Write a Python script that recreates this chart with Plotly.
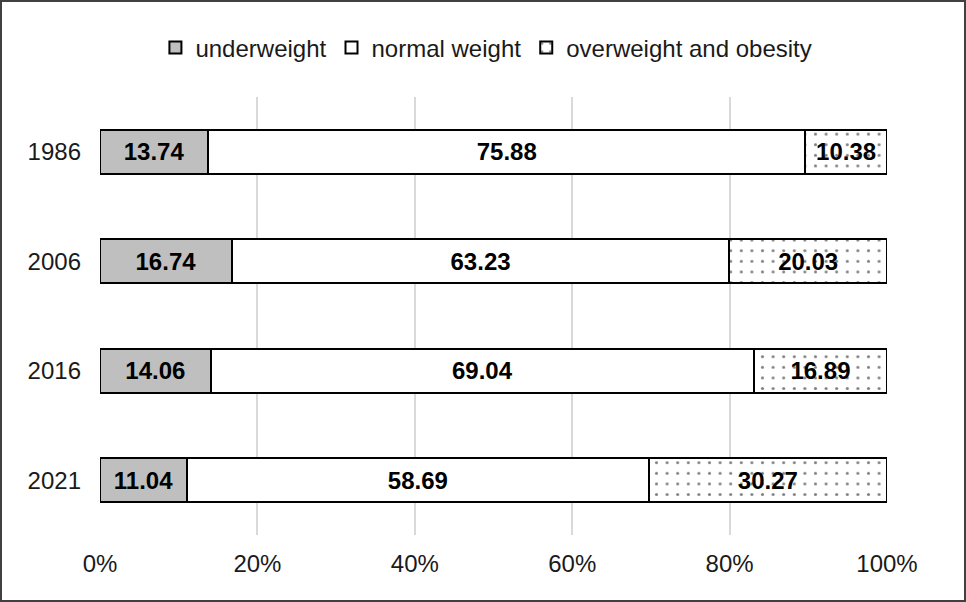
import plotly.graph_objects as go

years = ["1986", "2006", "2016", "2021"]
underweight = [13.74, 16.74, 14.06, 11.04]
normal_weight = [75.88, 63.23, 69.04, 58.69]
overweight = [10.38, 20.03, 16.89, 30.27]
x_ticks = [0, 20, 40, 60, 80, 100]
x_tick_labels = ["0%", "20%", "40%", "60%", "80%", "100%"]

W, H = 966, 602
ml, mr, mt, mb = 100, 79, 97, 67
pw, ph = W - ml - mr, H - mt - mb

font = "Liberation Sans, Arial, sans-serif"
txt = "#1a1a1a"
lab_font = dict(family=font, size=24, color="black")

fig = go.Figure()
fig.add_trace(go.Bar(
    y=years, x=underweight, name="underweight", orientation="h",
    marker=dict(color="#bfbfbf", line=dict(color="black", width=2)),
    texttemplate="<b>%{x:.2f}</b>", textposition="inside", insidetextanchor="middle",
    insidetextfont=lab_font,
))
fig.add_trace(go.Bar(
    y=years, x=normal_weight, name="normal weight", orientation="h",
    marker=dict(color="white", line=dict(color="black", width=2)),
    texttemplate="<b>%{x:.2f}</b>", textposition="inside", insidetextanchor="middle",
    insidetextfont=lab_font,
))
fig.add_trace(go.Bar(
    y=years, x=overweight, name="overweight and obesity", orientation="h",
    marker=dict(color="white", line=dict(color="black", width=2),
                pattern=dict(shape=".", fgcolor="black", bgcolor="white", size=10.6, solidity=0.065)),
    texttemplate="<b>%{x:.2f}</b>", textposition="inside", insidetextanchor="middle",
    insidetextfont=lab_font,
))

fig.update_layout(
    width=W, height=H,
    barmode="stack", bargap=0.6,
    margin=dict(l=ml, r=mr, t=mt, b=mb),
    paper_bgcolor="white", plot_bgcolor="white",
    font=dict(family=font, size=24, color=txt),
    uniformtext=dict(mode=False),
    legend=dict(orientation="h", x=0.491, xanchor="center", y=1 + 49 / ph, yanchor="middle",
                font=dict(family=font, size=24, color=txt),
                itemwidth=30, tracegroupgap=0, traceorder="normal"),
    xaxis=dict(range=[0, 100], tickvals=x_ticks, ticktext=x_tick_labels,
               showgrid=True, gridcolor="#d9d9d9", gridwidth=2, zeroline=False,
               showline=False, ticks="", ticklabelstandoff=12,
               tickfont=dict(size=24, color=txt)),
    yaxis=dict(categoryorder="array", categoryarray=years, autorange="reversed",
               showgrid=False, zeroline=False, showline=False, ticks="",
               ticklabelstandoff=18, tickfont=dict(size=24, color=txt)),
    shapes=[dict(type="rect", xref="paper", yref="paper",
                 x0=-(ml - 1) / pw, x1=1 + (mr - 1) / pw,
                 y0=-(mb - 1) / ph, y1=1 + (mt - 1) / ph,
                 line=dict(color="#404040", width=2), layer="below")],
)

fig.write_html("out.html", config={"displayModeBar": False},
               post_script="document.body.style.margin='0';document.body.style.overflow='hidden';")
